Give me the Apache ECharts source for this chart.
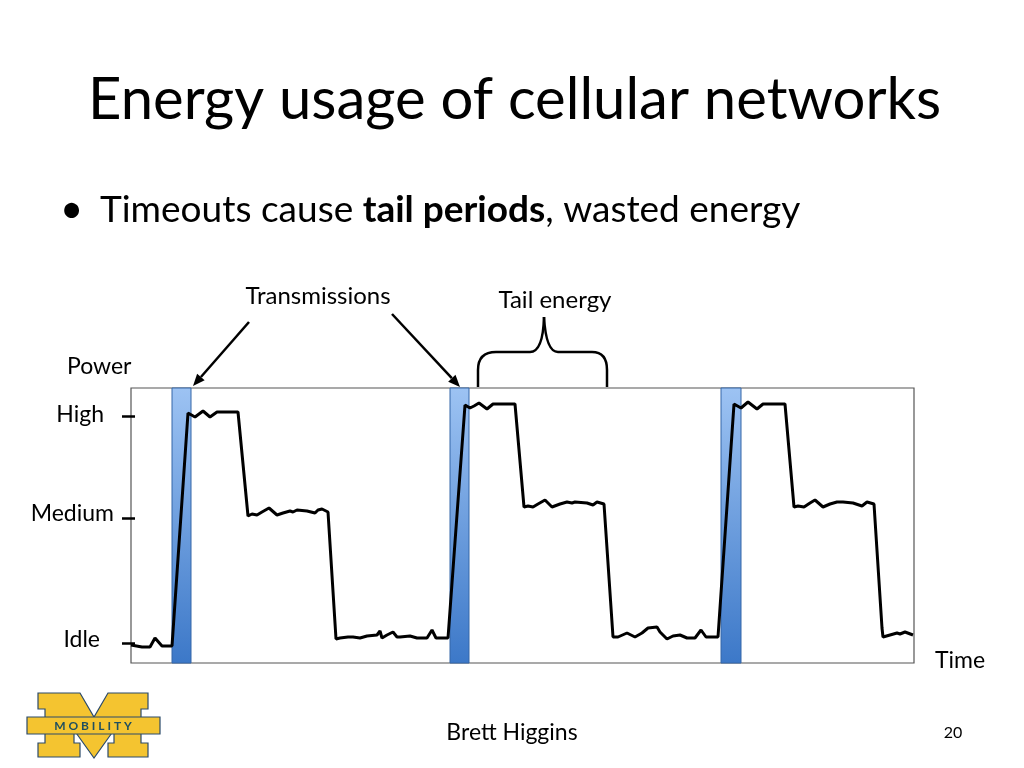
<!DOCTYPE html>
<html><head><meta charset="utf-8">
<script src="https://cdn.jsdelivr.net/npm/echarts@6/dist/echarts.min.js"></script>
<style>html,body{margin:0;padding:0;background:#fff}#c{width:1024px;height:768px}</style>
</head><body><div id="c"></div>
<script>
// Time positions (arbitrary units) and power trace values
const traceX = [0,2,11,19,24,31,41, 57,64,72,79,86,107,
  117,121,126,131,138,146,152,159,162,166,176,184,187,191,197,
  205,209,217,222,229,236,246,249,251,256,262,266,269,279,286,296,301,305,317,
  334,339,343,348,356,362,384,
  393,397,402,407,414,421,429,436,441,444,456,462,466,473,
  482,487,496,504,511,517,526,529,536,542,549,556,564,570,575,587,
  603,610,617,626,632,654,
  663,667,673,679,684,692,699,706,712,722,731,736,743,
  751,752,759,766,769,774,782];
const traceY = [18,17,16,16,25,17,17, 250,246,252,246,251,251,
  147,149,148,151,155,148,150,152,151,153,152,150,153,154,151,
  24,25,26,26,25,27,28,32,25,28,31,26,26,27,25,25,33,25,25,
  258,255,257,260,254,259,259,
  156,157,156,159,163,156,159,161,160,161,160,158,161,159,
  26,26,30,26,30,35,36,31,24,27,28,25,25,33,26,26,
  259,255,261,254,259,259,
  156,157,156,160,163,156,159,161,161,160,157,161,159,
  35,26,28,30,29,31,28];
// Transmission windows
const transStart = [41, 319, 590];
const transEnd = [60, 338, 610];
// Power level tick labels
const yTickLabels = ['Idle', 'Medium', 'High'];
const yTickValues = [20, 145, 247];

const FONT = 'Lato';
const chart = echarts.init(document.getElementById('c'), null, {renderer: 'canvas'});
const pts = traceX.map((x, i) => [x, traceY[i]]);
const areas = transStart.map((s, i) => [{xAxis: s}, {xAxis: transEnd[i]}]);

const ST = {stroke: '#000', lineWidth: 2.5, fill: null};
function arrow(x1, y1, x2, y2) {
  const dx = x2 - x1, dy = y2 - y1, L = Math.hypot(dx, dy);
  const ux = dx / L, uy = dy / L, h = 12, w = 5;
  const bx = x2 - h * ux, by = y2 - h * uy;
  return [
    {type: 'line', shape: {x1, y1, x2: bx, y2: by}, style: {stroke: '#000', lineWidth: 2.5}},
    {type: 'polygon', shape: {points: [[x2, y2], [bx - w * uy, by + w * ux], [bx + w * uy, by - w * ux]]}, style: {fill: '#000'}}
  ];
}
function ln(x1, y1, x2, y2) { return {type: 'line', shape: {x1, y1, x2, y2}, style: ST}; }
function qc(x1, y1, cx, cy, x2, y2) { return {type: 'bezierCurve', shape: {x1, y1, x2, y2, cpx1: cx, cpy1: cy}, style: ST}; }
function txt(t, x, y, size, align) {
  return {type: 'text', x, y, style: {text: t, font: size + 'px ' + FONT, fill: '#000', textAlign: align || 'left', textVerticalAlign: 'middle'}};
}

const logoFill = '#F4C430', logoStroke = '#2b4a6b';
const graphics = [
  txt('Energy usage of cellular networks', 88, 100, 58),
  {type: 'text', x: 60, y: 210, style: {text: '•', font: '40px ' + FONT, fill: '#000', textVerticalAlign: 'middle'}},
  {type: 'text', x: 100, y: 210, style: {
    text: '{n|Timeouts cause }{b|tail periods}{n|, wasted energy}',
    textVerticalAlign: 'middle',
    rich: {n: {fontFamily: FONT, fontSize: 37, color: '#000'}, b: {fontFamily: FONT, fontWeight: 'bold', fontSize: 37, color: '#000'}}
  }},
  txt('Transmissions', 318, 296, 24, 'center'),
  txt('Tail energy', 555, 300, 24, 'center'),
  txt('Power', 67, 367, 23),
  txt('Time', 935, 661, 23),
  txt('Brett Higgins', 512, 733, 23, 'center'),
  txt('20', 953, 733, 16, 'center'),
  ...arrow(249, 322, 193, 386),
  ...arrow(392, 314, 460, 387),
  ln(478, 387, 478, 370), qc(478, 370, 478, 352, 496, 352), ln(496, 352, 530, 352),
  qc(530, 352, 543, 352, 544, 317), qc(544, 317, 546, 352, 558, 352),
  ln(558, 352, 592, 352), qc(592, 352, 607, 352, 607, 370), ln(607, 370, 607, 387),
  {type: 'polygon', shape: {points: [[38,693],[80,693],[94,717],[108,693],[148,693],[148,709],[141,709],[141,743],[148,743],[148,757],[108,757],[108,743],[114,743],[114,730],[94,758],[74,730],[74,743],[80,743],[80,757],[38,757],[38,743],[45,743],[45,709],[38,709]]},
    style: {fill: logoFill, stroke: logoStroke, lineWidth: 1.2}},
  {type: 'rect', shape: {x: 27, y: 717, width: 133, height: 17}, style: {fill: logoFill, stroke: logoStroke, lineWidth: 1.2}},
  {type: 'text', x: 93, y: 726, style: {text: 'M O B I L I T Y', font: 'bold 12px ' + FONT, fill: '#1f4f5f', textAlign: 'center', textVerticalAlign: 'middle'}}
];

const labelRich = {
  h: {fontFamily: FONT, fontSize: 23, color: '#000', padding: [0, 10, 2, 0]},
  m: {fontFamily: FONT, fontSize: 23, color: '#000', padding: [0, 0, 8, 0]},
  i: {fontFamily: FONT, fontSize: 23, color: '#000', padding: [0, 14, 6, 0]}
};
const keyFor = {High: 'h', Medium: 'm', Idle: 'i'};

chart.setOption({
  animation: false,
  backgroundColor: '#fff',
  grid: {left: 131, right: 110, top: 388, bottom: 105, show: true, borderColor: '#555', borderWidth: 1.2, backgroundColor: 'transparent'},
  xAxis: {type: 'value', min: 0, max: 783, axisLine: {show: false}, axisTick: {show: false}, axisLabel: {show: false}, splitLine: {show: false}},
  yAxis: [{type: 'value', min: 0, max: 275,
    axisLine: {show: false}, splitLine: {show: false},
    axisTick: {show: true, customValues: yTickValues, length: 9, lineStyle: {color: '#000', width: 2.5}},
    axisLabel: {show: true, customValues: yTickValues, margin: 17,
      formatter: v => { const l = yTickLabels[yTickValues.indexOf(v)]; return '{' + keyFor[l] + '|' + l + '}'; },
      rich: labelRich
    }
  }, {type: 'value', min: 0, max: 275, position: 'left',
    axisLine: {show: false}, splitLine: {show: false}, axisLabel: {show: false},
    axisTick: {show: true, inside: true, customValues: yTickValues, length: 4, lineStyle: {color: '#000', width: 2.5}}
  }],
  series: [{
    type: 'line', data: pts, showSymbol: false, symbol: 'none', yAxisIndex: 0,
    lineStyle: {color: '#000', width: 3}, z: 3,
    markArea: {silent: true, z: 1,
      itemStyle: {color: new echarts.graphic.LinearGradient(0, 0, 0, 1, [{offset: 0, color: '#9dc3f3'}, {offset: 1, color: '#3c78c8'}]), borderColor: '#3466a8', borderWidth: 1},
      data: areas}
  }],
  graphic: graphics
});
</script></body></html>
